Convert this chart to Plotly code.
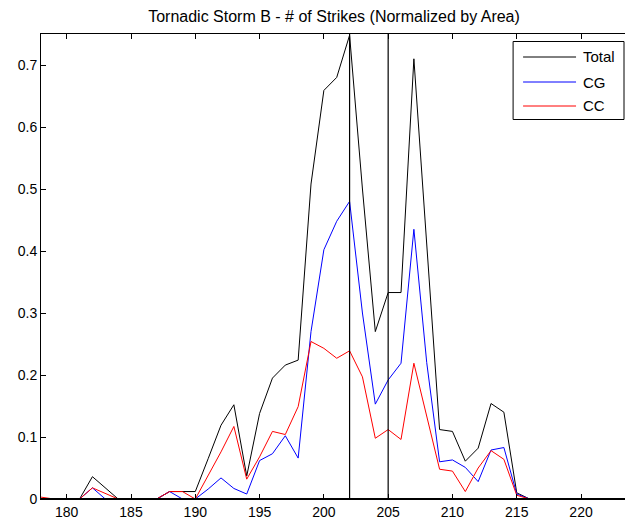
import plotly.graph_objects as go

# Time index (minutes) and strike counts normalized by storm area
minutes = list(range(178, 224))

total = [0, 0, 0, 0, 0.036, 0.018, 0, 0, 0, 0,
         0.012, 0.012, 0.012, 0.065, 0.119, 0.152, 0.037, 0.138, 0.195, 0.216,
         0.224, 0.508, 0.659, 0.68, 0.748, 0.5, 0.27, 0.333, 0.333, 0.71,
         0.41, 0.112, 0.109, 0.061, 0.082, 0.154, 0.14, 0.01, 0, 0,
         0, 0, 0, 0, 0, 0]

cg = [0, 0, 0, 0, 0.018, 0, 0, 0, 0, 0,
      0.012, 0, 0, 0.016, 0.034, 0.017, 0.008, 0.062, 0.073, 0.102,
      0.066, 0.27, 0.402, 0.448, 0.48, 0.3, 0.153, 0.192, 0.219, 0.435,
      0.22, 0.06, 0.063, 0.051, 0.028, 0.079, 0.083, 0.008, 0, 0,
      0, 0, 0, 0, 0, 0]

cc = [0.003, 0, 0, 0, 0.018, 0.009, 0, 0, 0, 0,
      0.012, 0.012, 0, 0.038, 0.076, 0.117, 0.032, 0.068, 0.109, 0.104,
      0.149, 0.254, 0.243, 0.227, 0.239, 0.197, 0.098, 0.112, 0.096, 0.219,
      0.133, 0.048, 0.045, 0.012, 0.05, 0.078, 0.064, 0.006, 0, 0,
      0, 0, 0, 0, 0, 0]

series_names = ["Total", "CG", "CC"]
series_colors = ["black", "#0000ff", "#ff0000"]

# Event markers drawn as full-height vertical lines
event_minutes = [202, 205]

x_ticks = [180, 185, 190, 195, 200, 205, 210, 215, 220]
y_ticks = [0, 0.1, 0.2, 0.3, 0.4, 0.5, 0.6, 0.7]
y_tick_labels = ["0", "0.1", "0.2", "0.3", "0.4", "0.5", "0.6", "0.7"]

FONT = "Liberation Sans, Arial, Helvetica, sans-serif"

W, H = 625, 529
M_L, M_R, M_T, M_B = 40.5, 0, 34, 30
PLOT_W = W - M_L - M_R
PLOT_H = H - M_T - M_B


def px_x(px):
    """Pixel column -> paper x."""
    return (px - M_L) / PLOT_W


def px_y(py):
    """Pixel row (from top) -> paper y."""
    return (H - M_B - py) / PLOT_H


fig = go.Figure()
for name, vals, color in zip(series_names, [total, cg, cc], series_colors):
    fig.add_trace(go.Scatter(x=minutes, y=vals, mode="lines", name=name,
                             line=dict(color=color, width=1), showlegend=False))

for m in event_minutes:
    fig.add_shape(type="line", xref="x", yref="paper", x0=m, x1=m, y0=0, y1=1,
                  line=dict(color="black", width=1.2))

# Baseline drawn over the traces so zero-valued stretches sit under the axis
fig.add_shape(type="line", xref="paper", yref="paper", x0=0, x1=1, y0=0, y1=0,
              line=dict(color="black", width=2), layer="above")

# Boxed legend in the upper-right corner
box_l, box_r, box_t, box_b = 513, 624, 41.5, 119.5
fig.add_shape(type="rect", xref="paper", yref="paper",
              x0=px_x(box_l), x1=px_x(box_r), y0=px_y(box_b), y1=px_y(box_t),
              line=dict(color="black", width=1), fillcolor="white", layer="above")
row_y = [57, 82, 106]
for name, color, ry in zip(series_names, series_colors, row_y):
    fig.add_shape(type="line", xref="paper", yref="paper",
                  x0=px_x(523), x1=px_x(576), y0=px_y(ry), y1=px_y(ry),
                  line=dict(color=color, width=1), layer="above")
    fig.add_annotation(xref="paper", yref="paper", x=px_x(581), y=px_y(ry),
                       xanchor="left", yanchor="middle", text=name, showarrow=False,
                       font=dict(family=FONT, size=15, color="black"))

fig.update_layout(
    width=W, height=H,
    margin=dict(l=M_L, r=M_R, t=M_T, b=M_B),
    paper_bgcolor="white", plot_bgcolor="white",
    font=dict(family=FONT, size=13, color="black"),
    title=dict(text="Tornadic Storm B - # of Strikes (Normalized by Area)",
               x=334 / W, xanchor="center", y=1 - 16 / H, yanchor="middle",
               font=dict(family=FONT, size=16, color="black")),
    showlegend=False,
)

fig.update_xaxes(range=[178, 223.42], tickmode="array", tickvals=x_ticks,
                 ticks="inside", ticklen=5, tickcolor="black",
                 showline=True, linecolor="black", linewidth=1, mirror="ticks",
                 showgrid=False, zeroline=False,
                 tickfont=dict(family=FONT, size=14, color="black"))
fig.update_yaxes(range=[0, 0.75], tickmode="array", tickvals=y_ticks,
                 ticktext=y_tick_labels,
                 ticks="inside", ticklen=5, tickcolor="black",
                 showline=True, linecolor="black", linewidth=1, mirror=False,
                 showgrid=False, zeroline=False,
                 tickfont=dict(family=FONT, size=14, color="black"))

fig.write_html("out.html")
